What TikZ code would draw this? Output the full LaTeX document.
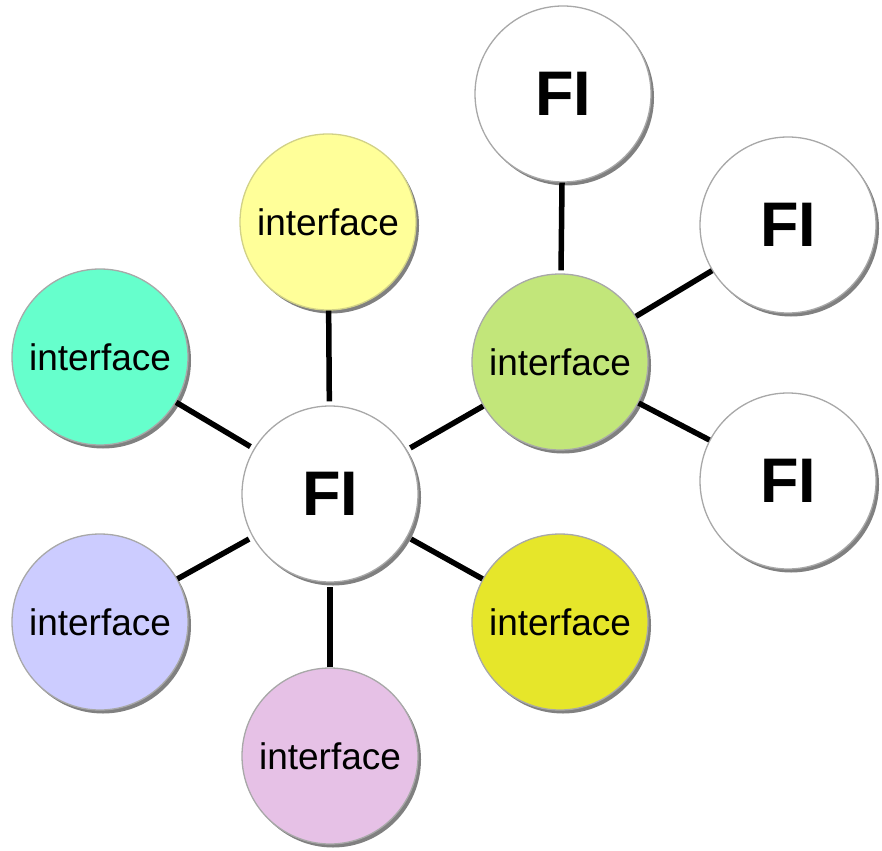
\documentclass[tikz,border=0pt]{standalone}
\usepackage{fontspec}
\setmainfont{Liberation Sans}
\usetikzlibrary{shadows}
\definecolor{cyel}{HTML}{FFFF99}
\definecolor{cteal}{HTML}{66FFCC}
\definecolor{clav}{HTML}{CCCCFF}
\definecolor{cpink}{HTML}{E6C1E6}
\definecolor{cyg}{HTML}{E6E62A}
\definecolor{cgreen}{HTML}{C2E67A}
\definecolor{crim}{HTML}{A8A8A8}
\tikzset{
  bubble/.style={circle, minimum size=176pt, inner sep=0pt, draw=crim, line width=1.3pt,
    drop shadow={shadow xshift=3pt, shadow yshift=-3.5pt, fill=black!50, opacity=1}},
  iface/.style={bubble, font=\fontsize{37}{42}\selectfont},
  fibox/.style={bubble, fill=white, font=\fontsize{63}{70}\selectfont\bfseries},
  link/.style={line width=5.5pt, black},
}
\begin{document}
\begin{tikzpicture}[x=1pt,y=-1pt]
\useasboundingbox (0,0) rectangle (882,850);
% nodes
\node[fibox] (c) at (330,494) {FI};
\node[iface, fill=cyel, draw=cyel!80!black!90] (top) at (328,222) {interface};
\node[iface, fill=cteal] (teal) at (100,357) {interface};
\node[iface, fill=clav] (lav) at (100,622) {interface};
\node[iface, fill=cpink] (pink) at (330,756) {interface};
\node[iface, fill=cyg] (yg) at (560,622) {interface};
\node[iface, fill=cgreen] (green) at (560,362) {interface};
\node[fibox] (f1) at (563,94) {FI};
\node[fibox] (f2) at (788,225) {FI};
\node[fibox] (f3) at (788,481) {FI};
% links
\draw[link, shorten >=4pt] (top) -- (c);
\draw[link, shorten >=4pt] (teal) -- (c);
\draw[link, shorten >=4pt] (lav) -- (c);
\draw[link, shorten >=4pt] (pink) -- (c);
\draw[link, shorten >=4pt] (yg) -- (c);
\draw[link, shorten >=4pt] (green) -- (c);
\draw[link, shorten <=3pt] (green) -- (f1);
\draw[link] (green) -- (f2);
\draw[link] (green) -- (f3);
\end{tikzpicture}
\end{document}
